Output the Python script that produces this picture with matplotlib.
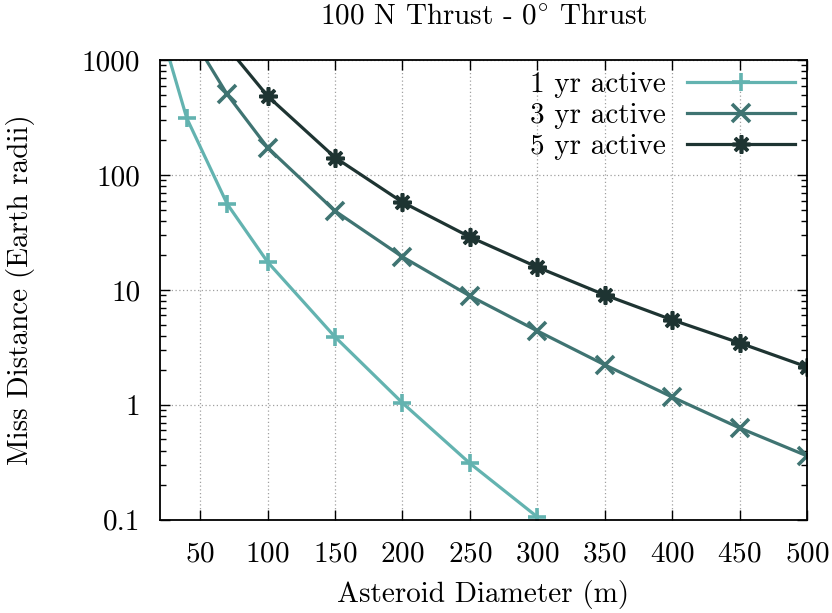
import matplotlib
matplotlib.use("Agg")
import matplotlib.pyplot as plt
from matplotlib.ticker import LogLocator, NullFormatter, FixedLocator, FuncFormatter

plt.rcParams['font.family'] = ['cmr10', 'DejaVu Serif']
plt.rcParams['mathtext.fontset'] = 'cm'
plt.rcParams['axes.formatter.use_mathtext'] = True

# data (first point of each series lies above the plot)
x_1yr = [10, 40, 70, 100, 150, 200, 250, 300]
y_1yr = [5000, 313, 56, 17.5, 3.9, 1.04, 0.31, 0.106]

x_3yr = [40, 70, 100, 150, 200, 250, 300, 350, 400, 450, 500]
y_3yr = [1900, 503, 173, 48.6, 19.4, 8.87, 4.4, 2.23, 1.17, 0.63, 0.36]

x_5yr = [70, 100, 150, 200, 250, 300, 350, 400, 450, 500]
y_5yr = [1300, 486, 142, 58, 28.9, 15.8, 9.05, 5.49, 3.46, 2.14]

labels = ["1 yr active", "3 yr active", "5 yr active"]
colors = ['#63b3b0', '#3f7472', '#1e3432']
markers = ['+', 'x', (8, 2, 0)]

xticks = [50, 100, 150, 200, 250, 300, 350, 400, 450, 500]
yticks = [0.1, 1, 10, 100, 1000]

fig = plt.figure(figsize=(8.32, 6.13), dpi=100)
ax = fig.add_axes([0.192, 0.152, 0.778, 0.750])

for xs, ys, lab, c, m in zip([x_1yr, x_3yr, x_5yr], [y_1yr, y_3yr, y_5yr], labels, colors, markers):
    ax.plot(xs, ys, color=c, lw=2.3, marker=m, ms=13, mew=2.6, label=lab)

ax.set_yscale('log')
ax.set_xlim(20, 500)
ax.set_ylim(0.1, 1000)
ax.xaxis.set_major_locator(FixedLocator(xticks))
ax.yaxis.set_major_locator(FixedLocator(yticks))
ax.yaxis.set_major_formatter(FuncFormatter(lambda v, p: ('%g' % v)))
ax.yaxis.set_minor_locator(LogLocator(base=10, subs=range(2, 10), numticks=20))
ax.yaxis.set_minor_formatter(NullFormatter())

ax.tick_params(which='both', direction='in', top=True, right=True, labelsize=21)
ax.tick_params(axis='y', pad=14)
ax.tick_params(axis='x', pad=15)
ax.tick_params(which='major', length=7, width=1)
ax.tick_params(which='minor', length=4, width=1)
for s in ax.spines.values():
    s.set_linewidth(1.3)

ax.grid(True, which='major', color='#a0a0a0', linestyle=(0, (1, 2)), linewidth=0.9)

ax.set_title(r"$\text{100 N Thrust - 0}^{\circ}\text{ Thrust}$", fontsize=21, pad=26)
ax.set_xlabel("Asteroid Diameter (m)", fontsize=21, labelpad=9)
ax.set_ylabel("Miss Distance (Earth radii)", fontsize=21, labelpad=34)

ax.legend(loc='upper right', frameon=False, markerfirst=False, fontsize=21,
          handlelength=3.7, handletextpad=0.75, borderaxespad=0.1, labelspacing=0.15,
          borderpad=0.3)

fig.savefig("out.png", dpi=100)
